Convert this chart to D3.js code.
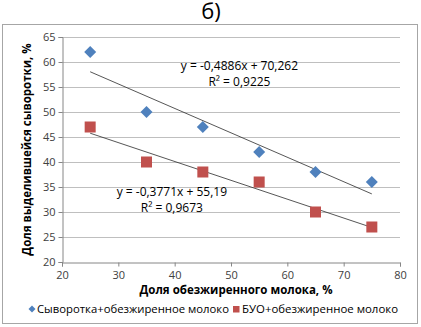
<!DOCTYPE html>
<html>
<head>
<meta charset="utf-8">
<script src="https://cdn.jsdelivr.net/npm/d3@7"></script>
<style>
  body { margin: 0; background: #fff; }
  svg text { font-family: "Open Sans", "Liberation Sans", sans-serif; }
</style>
</head>
<body>
<div id="chart"></div>
<script>
  const xValues = [25, 35, 45, 55, 65, 75];
  const serumValues = [62, 50, 47, 42, 38, 36];
  const buoValues = [47, 40, 38, 36, 30, 27];
  const xTicks = [20, 30, 40, 50, 60, 70, 80];
  const yTicks = [20, 25, 30, 35, 40, 45, 50, 55, 60, 65];
  const seriesNames = ["Сыворотка+обезжиренное молоко", "БУО+обезжиренное молоко"];
  // trend lines as printed on the chart
  const serumTrend = {slope: -0.4886, intercept: 70.262, eq: "y = -0,4886x + 70,262", r2: "R² = 0,9225"};
  const buoTrend = {slope: -0.3771, intercept: 55.19, eq: "y = -0,3771x + 55,19", r2: "R² = 0,9673"};

  const W = 421, H = 327;
  const margin = {top: 37, right: 21, bottom: 65, left: 62};
  const width = W - margin.left - margin.right;
  const height = H - margin.top - margin.bottom;

  const svg = d3.select("#chart").append("svg")
    .attr("width", W)
    .attr("height", H);

  svg.append("text")
    .attr("x", 211).attr("y", 19)
    .attr("text-anchor", "middle")
    .attr("font-size", 22)
    .attr("fill", "#000")
    .text("б)");

  svg.append("rect")
    .attr("x", 2.5).attr("y", 24.5)
    .attr("width", 415).attr("height", 299)
    .attr("fill", "none")
    .attr("stroke", "#a6a6a6");

  const g = svg.append("g")
    .attr("transform", "translate(" + margin.left + "," + margin.top + ")");

  const x = d3.scaleLinear().domain([20, 80]).range([0, width]);
  const y = d3.scaleLinear().domain([20, 65]).range([height, 0]);

  // gridlines
  g.append("g")
    .selectAll("line")
    .data(yTicks.slice(1))
    .join("line")
    .attr("x1", 0).attr("x2", width)
    .attr("y1", d => Math.round(y(d)) + 0.5)
    .attr("y2", d => Math.round(y(d)) + 0.5)
    .attr("stroke", "#bfbfbf");

  const yAxis = g.append("g")
    .attr("transform", "translate(0.5,0)")
    .call(d3.axisLeft(y).tickValues(yTicks).tickSize(4).tickPadding(3));
  const xAxis = g.append("g")
    .attr("transform", "translate(0," + (height + 0.5) + ")")
    .call(d3.axisBottom(x).tickValues(xTicks).tickSize(4).tickPadding(5));

  [xAxis, yAxis].forEach(function (a) {
    a.select(".domain").attr("stroke", "#868686");
    a.selectAll(".tick line").attr("stroke", "#868686");
    a.selectAll(".tick text")
      .attr("fill", "#404040")
      .attr("font-size", 11)
      .style("font-family", '"Open Sans", sans-serif');
  });

  // trend lines
  [serumTrend, buoTrend].forEach(function (t) {
    const x0 = xValues[0], x1 = xValues[xValues.length - 1];
    g.append("line")
      .attr("x1", x(x0)).attr("y1", y(t.slope * x0 + t.intercept))
      .attr("x2", x(x1)).attr("y2", y(t.slope * x1 + t.intercept))
      .attr("stroke", "#2b2b2b")
      .attr("stroke-width", 0.8);
  });

  // points
  g.append("g")
    .selectAll("path")
    .data(xValues.map((d, i) => [d, serumValues[i]]))
    .join("path")
    .attr("transform", d => "translate(" + x(d[0]) + "," + y(d[1]) + ")")
    .attr("d", "M0,-6L6,0L0,6L-6,0Z")
    .attr("fill", "#4f81bd");

  g.append("g")
    .selectAll("rect")
    .data(xValues.map((d, i) => [d, buoValues[i]]))
    .join("rect")
    .attr("x", d => x(d[0]) - 5.5)
    .attr("y", d => y(d[1]) - 5.5)
    .attr("width", 11).attr("height", 11)
    .attr("fill", "#c0504d");

  // equations
  function equation(t, cx, cy) {
    const txt = g.append("text")
      .attr("text-anchor", "middle")
      .attr("font-size", 12)
      .attr("fill", "#000");
    txt.append("tspan").attr("x", x(cx)).attr("y", y(cy)).text(t.eq);
    txt.append("tspan").attr("x", x(cx)).attr("y", y(cy) + 16).text(t.r2);
  }
  equation(serumTrend, 51.5, 58.5);
  equation(buoTrend, 39.5, 33.2);

  svg.append("text")
    .attr("transform", "translate(31," + (margin.top + height / 2) + ") rotate(-90)")
    .attr("text-anchor", "middle")
    .attr("font-size", 11.5)
    .attr("font-weight", "bold")
    .attr("fill", "#000")
    .text("Доля выделившейся сыворотки, %");

  svg.append("text")
    .attr("x", 236).attr("y", 294)
    .attr("text-anchor", "middle")
    .attr("font-size", 11.5)
    .attr("font-weight", "bold")
    .attr("fill", "#000")
    .text("Доля обезжиренного молока, %");

  // legend
  const legend = svg.append("g").attr("transform", "translate(0,309)");
  legend.append("path")
    .attr("d", "M32,-3.5L35.5,0L32,3.5L28.5,0Z")
    .attr("fill", "#4f81bd");
  legend.append("text")
    .attr("x", 37).attr("y", 4)
    .attr("font-size", 11)
    .attr("fill", "#000")
    .attr("textLength", 192)
    .attr("lengthAdjust", "spacingAndGlyphs")
    .text(seriesNames[0]);
  legend.append("rect")
    .attr("x", 233).attr("y", -3)
    .attr("width", 6.5).attr("height", 6.5)
    .attr("fill", "#c0504d");
  legend.append("text")
    .attr("x", 242).attr("y", 4)
    .attr("font-size", 11)
    .attr("fill", "#000")
    .attr("textLength", 156)
    .attr("lengthAdjust", "spacingAndGlyphs")
    .text(seriesNames[1]);
</script>
</body>
</html>
